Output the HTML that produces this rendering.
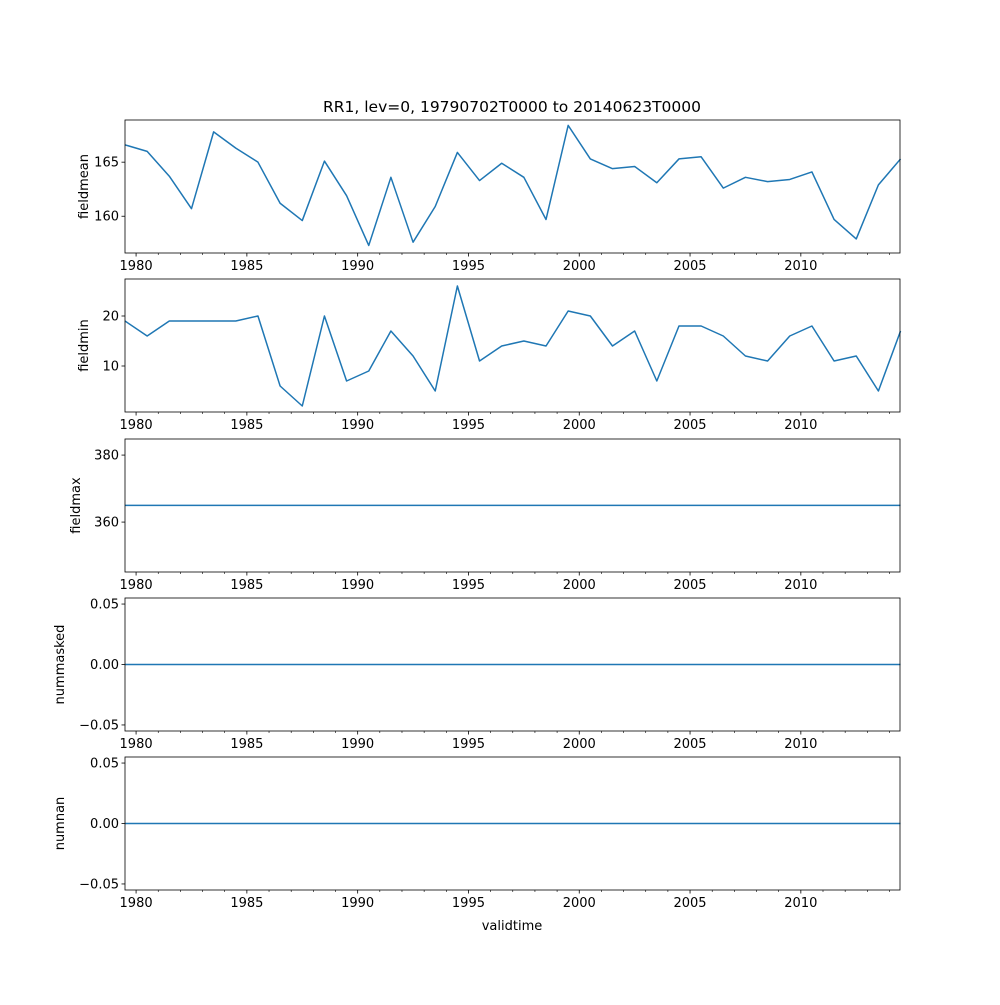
<!DOCTYPE html>
<html><head><meta charset="utf-8"><style>
html,body{margin:0;padding:0;background:#fff;}
svg text{font-family:"DejaVu Sans","Liberation Sans",sans-serif;font-size:13px;fill:#000;}
</style></head><body>
<svg id="fig" width="1000" height="1000" xmlns="http://www.w3.org/2000/svg">
<rect width="1000" height="1000" fill="#fff"/>
<text x="512" y="112" text-anchor="middle" style="font-size:15.5px">RR1, lev=0, 19790702T0000 to 20140623T0000</text>
<text x="512" y="930" text-anchor="middle">validtime</text>
</svg>
<script>
const years = [];
for (let y = 1979; y <= 2014; y++) years.push(y);
const fieldmean = [166.6,166.0,163.7,160.7,167.8,166.3,165.0,161.2,159.6,165.1,161.9,157.3,163.6,157.6,160.9,165.9,163.3,164.9,163.6,159.7,168.4,165.3,164.4,164.6,163.1,165.3,165.5,162.6,163.6,163.2,163.4,164.1,159.7,157.9,162.9,165.3];
const fieldmin = [19,16,19,19,19,19,20,6,2,20,7,9,17,12,5,26,11,14,15,14,21,20,14,17,7,18,18,16,12,11,16,18,11,12,5,17];
const fieldmax = years.map(() => 365);
const nummasked = years.map(() => 0);
const numnan = years.map(() => 0);
const xTickLabels = [1980,1985,1990,1995,2000,2005,2010];
const panels = [
 {name:'fieldmean', vals:fieldmean, top:120, lo:156.6, hi:168.9, ticks:[160,165], fmt:v=>String(v), lblX:88},
 {name:'fieldmin', vals:fieldmin, top:279, lo:0.8, hi:27.4, ticks:[10,20], fmt:v=>String(v), lblX:88},
 {name:'fieldmax', vals:fieldmax, top:439, lo:345.1, hi:384.8, ticks:[360,380], fmt:v=>String(v), lblX:80},
 {name:'nummasked', vals:nummasked, top:598, lo:-0.055, hi:0.055, ticks:[-0.05,0,0.05], fmt:v=>v.toFixed(2).replace('-','\u2212'), lblX:64},
 {name:'numnan', vals:numnan, top:757, lo:-0.055, hi:0.055, ticks:[-0.05,0,0.05], fmt:v=>v.toFixed(2).replace('-','\u2212'), lblX:64}
];
const NS='http://www.w3.org/2000/svg';
const svg=document.getElementById('fig');
const L=125,R=900,H=133, x0=1979.5, x1=2014.475;
const xs=t=>L+(t-x0)/(x1-x0)*(R-L);
function mk(tag,attrs,parent){const e=document.createElementNS(NS,tag);for(const k in attrs)e.setAttribute(k,attrs[k]);(parent||svg).appendChild(e);return e;}
panels.forEach(p=>{
  const g=mk('g',{});
  
  
  const ys=v=>p.top+H-(v-p.lo)/(p.hi-p.lo)*H;
  const pts=p.vals.map((v,i)=>xs(years[i]+0.5).toFixed(2)+','+ys(v).toFixed(2)).join(' ');
  const line=mk('polyline',{points:pts,fill:'none',stroke:'#1f77b4','stroke-width':1.5,'stroke-linejoin':'round'},g);
  
  
  const frame=mk('rect',{x:L,y:p.top,width:R-L,height:H,fill:'none',stroke:'#000','stroke-width':0.8},g);
  
  
  p.ticks.forEach(t=>{
    const y=ys(t);
    mk('line',{x1:L-3.5,x2:L,y1:y,y2:y,stroke:'#000','stroke-width':0.8},g);
    const tx=mk('text',{x:L-6,y:y+4.5,'text-anchor':'end'},g);
    tx.textContent=p.fmt(t);
    
    
  });
  for(let yr=1980;yr<=2014;yr++){
    const x=xs(yr);
    const major=xTickLabels.includes(yr);
    mk('line',{x1:x,x2:x,y1:p.top+H,y2:p.top+H+(major?3.5:2),stroke:'#000','stroke-width':major?0.8:0.6},g);
  }
  xTickLabels.forEach(yr=>{
    const tx=mk('text',{x:xs(yr),y:p.top+H+17,'text-anchor':'middle'},g);
    tx.textContent=String(yr);
    
    
  });
  const cy=p.top+H/2;
  const yl=mk('text',{x:p.lblX,y:cy,'text-anchor':'middle',transform:'rotate(-90 '+p.lblX+' '+cy+')'},g);
  yl.textContent=p.name;
  
  
});
</script>
</body></html>
